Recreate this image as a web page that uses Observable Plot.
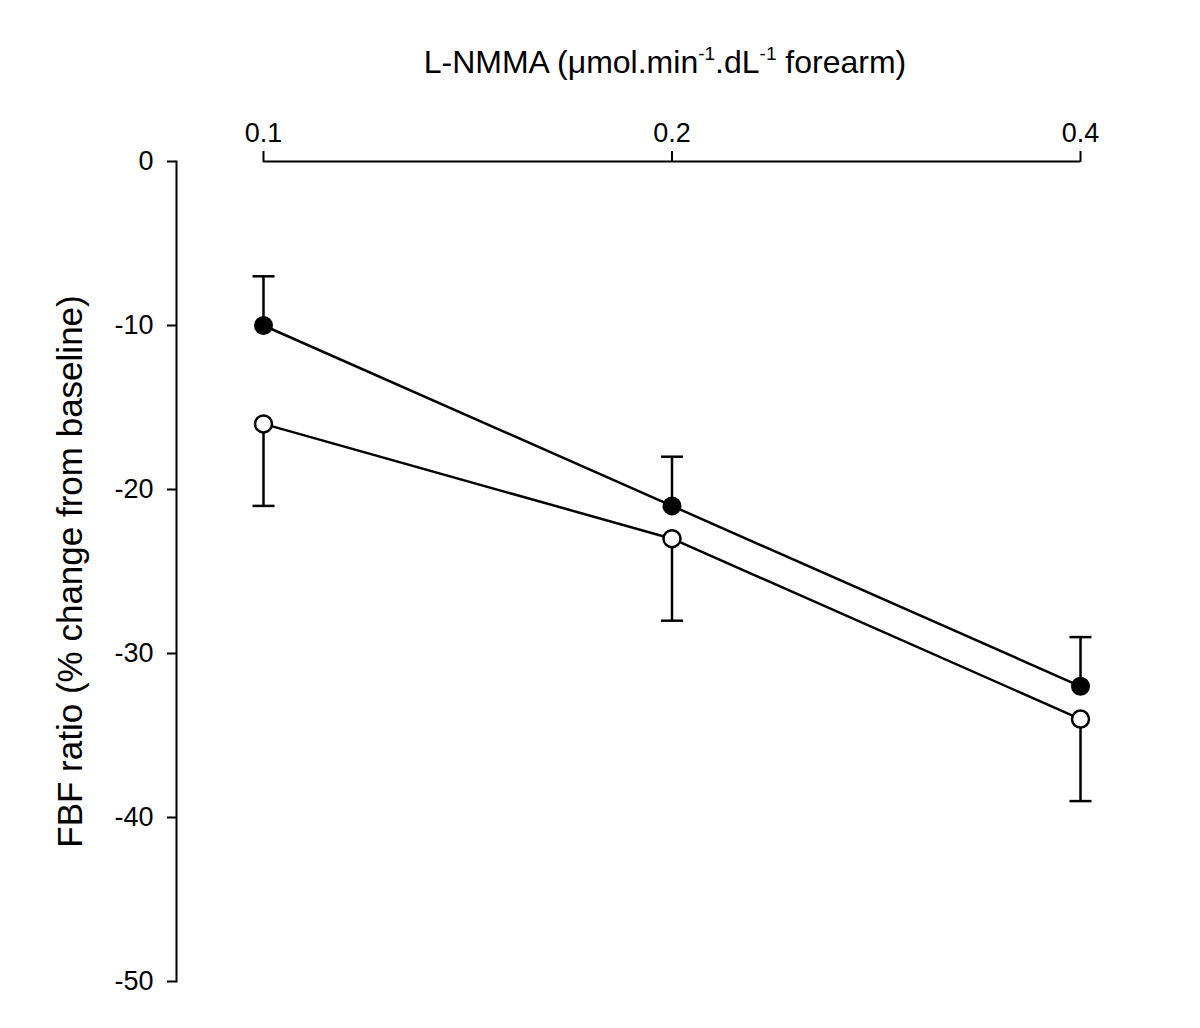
<!DOCTYPE html>
<html><head><meta charset="utf-8">
<script src="https://cdn.jsdelivr.net/npm/d3@7"></script>
<script src="https://cdn.jsdelivr.net/npm/@observablehq/plot@0.6"></script>
<style>
body{margin:0;background:#fff;font-family:"Liberation Sans",Arial,sans-serif;}
#title{height:92px;width:1070px;padding-left:130px;text-align:center;font-size:32px;line-height:32px;box-sizing:content-box;}
#title span{display:inline-block;margin-top:46px;}
#title sup{font-size:19px;vertical-align:13px;line-height:0;}
</style></head><body>
<div id="title"><span>L-NMMA (μmol.min<sup>-1</sup>.dL<sup>-1</sup> forearm)</span></div>
<div id="chart"></div>
<script>
const doses = [0.1, 0.2, 0.4];
const filledMean = [-10, -21, -32];
const filledErr = [3, 3, 3];      // upward SEM
const openMean = [-16, -23, -34];
const openErr = [5, 5, 5];        // downward SEM
const yTicks = [0, -10, -20, -30, -40, -50];
const yLabel = "FBF ratio (% change from baseline)";

const filled = doses.map((d, i) => ({dose: d, mean: filledMean[i], end: filledMean[i] + filledErr[i]}));
const open = doses.map((d, i) => ({dose: d, mean: openMean[i], end: openMean[i] - openErr[i]}));

const cap = {draw(ctx, size) { const w = Math.sqrt(size / Math.PI); ctx.moveTo(-w, 0); ctx.lineTo(w, 0); }};

const chart = Plot.plot({
  width: 1200, height: 936,
  marginTop: 69, marginBottom: 47, marginLeft: 176, marginRight: 120,
  style: {fontFamily: "Liberation Sans, Arial, sans-serif", fontSize: "27px", color: "#000", background: "#fff"},
  x: {type: "log", domain: [0.1, 0.4], range: [263, 1080]},
  y: {domain: [-50, 0]},
  marks: [
    Plot.axisX({anchor: "top", ticks: doses, tickFormat: d => String(d), tickSize: 11, tickPadding: 9, label: null, strokeWidth: 2, fontSize: 27}),
    Plot.axisY({anchor: "left", ticks: yTicks, tickFormat: d => String(d), tickSize: 9, tickPadding: 14, label: null, strokeWidth: 2, fontSize: 27}),
    Plot.frame({anchor: "left", strokeWidth: 2}),
    Plot.ruleY([0], {x1: doses[0], x2: doses[doses.length - 1], strokeWidth: 2}),
    Plot.text([yLabel], {frameAnchor: "left", textAnchor: "middle", rotate: -90, dx: -106, fontSize: 35}),
    Plot.ruleX(filled, {x: "dose", y1: "mean", y2: "end", strokeWidth: 2.5}),
    Plot.ruleX(open, {x: "dose", y1: "mean", y2: "end", strokeWidth: 2.5}),
    Plot.dot(filled, {x: "dose", y: "end", symbol: cap, r: 11, stroke: "black", strokeWidth: 2.5}),
    Plot.dot(open, {x: "dose", y: "end", symbol: cap, r: 11, stroke: "black", strokeWidth: 2.5}),
    Plot.line(filled, {x: "dose", y: "mean", stroke: "black", strokeWidth: 2.5}),
    Plot.line(open, {x: "dose", y: "mean", stroke: "black", strokeWidth: 2.5}),
    Plot.dot(filled, {x: "dose", y: "mean", r: 8.5, fill: "black", stroke: "black", strokeWidth: 2}),
    Plot.dot(open, {x: "dose", y: "mean", r: 8.5, fill: "white", stroke: "black", strokeWidth: 2.5})
  ]
});
document.getElementById("chart").appendChild(chart);
</script>
</body></html>
